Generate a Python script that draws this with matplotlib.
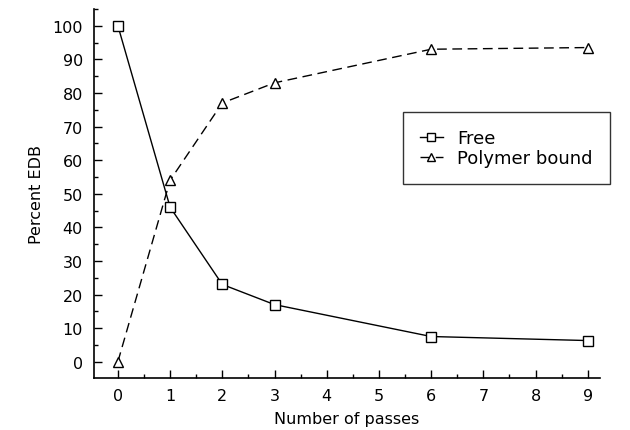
import matplotlib
matplotlib.use("Agg")
import matplotlib.pyplot as plt
from matplotlib.ticker import MultipleLocator

passes = [0, 1, 2, 3, 6, 9]
free = [100, 46, 23, 17, 7.5, 6.3]
bound = [0, 54, 77, 83, 93, 93.5]

plt.rcParams['font.family'] = ['DejaVu Sans']
fig = plt.figure(figsize=(6.3, 4.31), dpi=100)
ax = fig.add_axes([0.149, 0.121, 0.803, 0.856])

ax.plot(passes, free, '-', color='black', lw=1.0, marker='s', ms=6.5,
        mfc='white', mec='black', mew=1.0, label='Free')
ax.plot(passes, bound, color='black', lw=1.0, dashes=(7, 4), marker='^', ms=6.5,
        mfc='white', mec='black', mew=1.0, label='Polymer bound')

ax.set_xlim(-0.46, 9.23)
ax.set_ylim(-4.8, 105)
ax.xaxis.set_major_locator(MultipleLocator(1))
ax.xaxis.set_minor_locator(MultipleLocator(0.5))
ax.yaxis.set_major_locator(MultipleLocator(10))
ax.yaxis.set_minor_locator(MultipleLocator(5))
ax.tick_params(which='major', direction='in', length=6, width=1, labelsize=11.5)
ax.tick_params(axis='x', which='major', pad=7)
ax.tick_params(axis='y', which='major', pad=8)
ax.tick_params(which='minor', direction='in', length=3, width=1)
for s in ['top', 'right']:
    ax.spines[s].set_visible(False)
for s in ['left', 'bottom']:
    ax.spines[s].set_linewidth(1.2)

ax.set_xlabel('Number of passes', fontsize=11.5, labelpad=6)
ax.set_ylabel('Percent EDB', fontsize=11.5, labelpad=6)

leg = ax.legend(loc='upper left', bbox_to_anchor=(0.611, 0.721), fontsize=13,
                frameon=True, fancybox=False, edgecolor='black',
                handlelength=1.25, handletextpad=0.8, borderpad=0.95,
                labelspacing=0.12, borderaxespad=0, markerscale=0.8)
leg.get_frame().set_linewidth(1.0)

fig.savefig('out.png', dpi=100)
